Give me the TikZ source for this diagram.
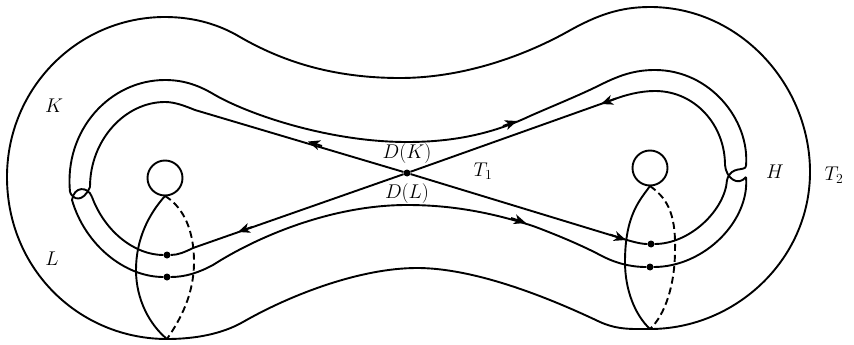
\documentclass[tikz,border=0pt]{standalone}
\usetikzlibrary{arrows.meta}

\begin{document}
\begin{tikzpicture}[
    x=1pt,
    y=-1pt,
    font=\fontsize{17.28}{19}\selectfont,
    curve/.style={line width=1.9pt, line join=round},
    hidden/.style={curve, dash pattern=on 7pt off 4pt},
    tip/.style={-{Stealth[length=12pt, width=10pt, inset=3.5pt]}, line width=1.9pt},
    dot/.style={circle, fill=black, inner sep=0pt, minimum size=7pt},
    hole/.style={circle, draw, line width=1.9pt, minimum size=35pt, inner sep=0pt},
    tag/.style={inner sep=0pt, scale=1.15}
]
    \useasboundingbox (0, 0) rectangle (854, 345);

    % Labels
    \node[tag] (labelK) at (54, 106) {$K$};
    \node[tag] (labelL) at (52, 259) {$L$};
    \node[tag] (labelH) at (775, 172) {$H$};
    \node[tag] (labelTone) at (483, 171) {$T_1$};
    \node[tag] (labelTtwo) at (834, 175) {$T_2$};
    \node[tag] (labelDK) at (407, 154) {$D(K)$};
    \node[tag] (labelDL) at (407, 194) {$D(L)$};

    % Points
    \node[dot] (centre) at (407, 173) {};
    \node[dot] (leftA) at (167, 255) {};
    \node[dot] (leftB) at (167, 277) {};
    \node[dot] (rightA) at (651, 244) {};
    \node[dot] (rightB) at (650, 267) {};
    \coordinate (leftTop) at (165, 196);
    \coordinate (leftBottom) at (167, 339);
    \coordinate (rightTop) at (650, 186);
    \coordinate (rightBottom) at (650, 329);

    % Outer surface
    \draw[curve] (7, 177)
        .. controls (7, 88) and (78, 17) .. (165, 17)
        .. controls (195, 17) and (220, 25) .. (240, 37)
        .. controls (280, 60) and (330, 78) .. (400, 78)
        .. controls (460, 78) and (520, 58) .. (567, 32)
        .. controls (597, 15) and (620, 7) .. (650, 7)
        .. controls (740, 7) and (810, 85) .. (810, 172)
        .. controls (810, 260) and (735, 329) .. (rightBottom)
        .. controls (632, 329) and (618, 330) .. (600, 322)
        .. controls (560, 303) and (480, 268) .. (417, 268)
        .. controls (360, 268) and (290, 295) .. (243, 322)
        .. controls (222, 334) and (195, 339) .. (leftBottom)
        .. controls (80, 339) and (7, 270) .. (7, 177) -- cycle;

    % Holes
    \node[hole] (leftHole) at (165, 178) {};
    \node[hole] (rightHole) at (650, 168) {};

    % Lenses
    \draw[curve] (leftTop) .. controls (148, 215) and (136, 240) .. (136, 270)
        .. controls (136, 300) and (150, 325) .. (leftBottom);
    \draw[hidden] (leftTop) .. controls (180, 205) and (194, 225) .. (194, 262)
        .. controls (194, 295) and (180, 320) .. (leftBottom);
    \draw[curve] (rightTop) .. controls (640, 200) and (625, 215) .. (625, 262)
        .. controls (625, 290) and (635, 315) .. (rightBottom);
    \draw[hidden] (rightTop) .. controls (665, 197) and (676, 210) .. (675, 250)
        .. controls (675, 285) and (665, 315) .. (rightBottom);

    % Strands on the K side
    \draw[curve] (90, 187) .. controls (90, 140) and (125, 102) .. (165, 102)
        .. controls (175, 102) and (185, 106) .. (195, 110)
        -- (centre) -- (617, 237)
        .. controls (630, 241) and (640, 244) .. (rightA)
        .. controls (690, 244) and (725, 210) .. (727, 180);
    \draw[curve] (70, 192) .. controls (64, 130) and (110, 80) .. (165, 80)
        .. controls (185, 80) and (200, 86) .. (215, 95)
        .. controls (250, 115) and (330, 142) .. (407, 142)
        .. controls (450, 142) and (490, 135) .. (530, 116)
        .. controls (555, 105) and (580, 95) .. (600, 85)
        .. controls (620, 75) and (635, 70) .. (655, 70)
        .. controls (710, 70) and (750, 120) .. (746, 166);

    % Strands on the L side
    \draw[curve] (92, 197) .. controls (105, 232) and (135, 255) .. (leftA)
        .. controls (178, 255) and (185, 252) .. (193, 248)
        -- (centre) -- (612, 100)
        .. controls (625, 95) and (640, 91) .. (655, 91)
        .. controls (695, 91) and (725, 125) .. (725, 165);
    \draw[curve] (72, 200) .. controls (85, 245) and (125, 277) .. (leftB)
        .. controls (185, 277) and (198, 273) .. (213, 265)
        .. controls (255, 238) and (330, 205) .. (407, 205)
        .. controls (450, 205) and (490, 212) .. (533, 226)
        .. controls (560, 236) and (585, 247) .. (600, 255)
        .. controls (615, 263) and (630, 267) .. (rightB)
        .. controls (705, 267) and (750, 220) .. (746, 177);

    % Twists
    \draw[curve] (70, 192) .. controls (73, 200) and (83, 203) .. (90, 187);
    \draw[curve] (92, 197) .. controls (88, 186) and (74, 186) .. (72, 200);
    \draw[curve] (725, 165) .. controls (726, 178) and (738, 187) .. (746, 177);
    \draw[curve] (746, 166) .. controls (745, 172) and (731, 165) .. (727, 180);

    % Arrows
    \draw[tip] (322, 146) -- (308, 141.5);
    \draw[tip] (252, 227) -- (238, 232);
    \draw[tip] (503, 126) -- (517, 121);
    \draw[tip] (511, 218) -- (526, 223);
    \draw[tip] (616, 98.5) -- (601, 104);
    \draw[tip] (610, 234.5) -- (626, 240);
\end{tikzpicture}
\end{document}
